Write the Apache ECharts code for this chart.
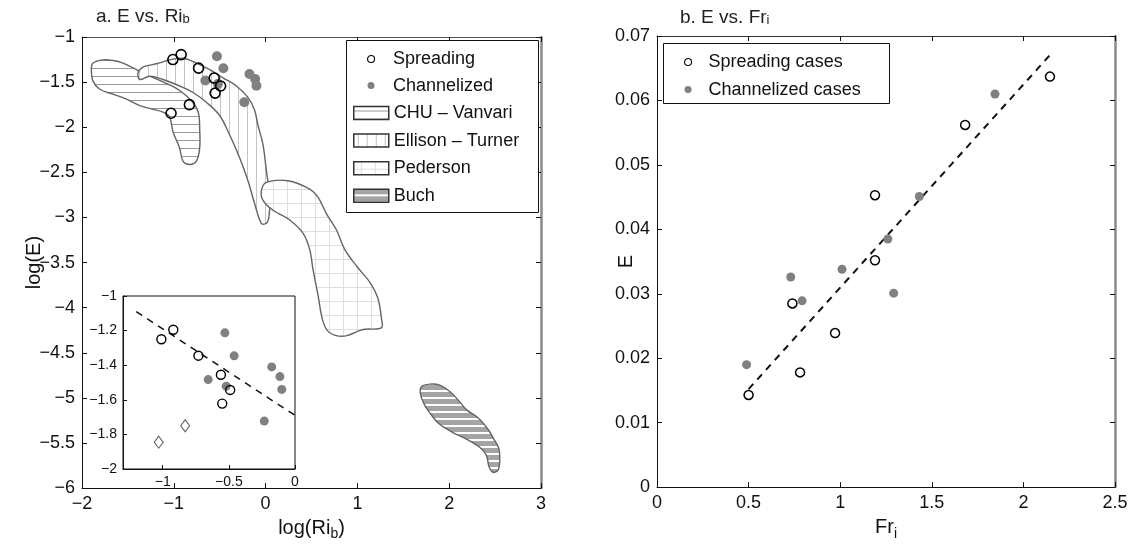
<!DOCTYPE html>
<html><head><meta charset="utf-8">
<script src="https://cdn.jsdelivr.net/npm/echarts@6/dist/echarts.min.js"></script>
<style>html,body{margin:0;padding:0;background:#fff}#c{width:1138px;height:546px}</style>
</head><body><div id="c"></div>
<script>
// ---------- Panel a: log(E) vs log(Ri_b) ----------
const spreadRi   = [-1.01, -0.92, -0.73, -0.56, -0.49, -0.55];
const spreadLogE = [-1.25, -1.195, -1.345, -1.455, -1.543, -1.622];
const otherRi    = [-1.03, -0.83];
const otherLogE  = [-1.845, -1.75];
const chanRi     = [-0.53, -0.46, -0.656, -0.52, -0.176, -0.114, -0.10, -0.232];
const chanLogE   = [-1.213, -1.346, -1.483, -1.521, -1.41, -1.466, -1.54, -1.723];
const insetFitRi   = [-1.2, 0];
const insetFitLogE = [-1.09, -1.69];

// region outlines [log(Ri_b), log(E)]
const chuOutline = [[-1.88,-1.289],[-1.771,-1.253],[-1.662,-1.261],[-1.553,-1.289],[-1.444,-1.343],[-1.317,-1.405],[-1.154,-1.482],[-0.99,-1.558],[-0.87,-1.645],[-0.772,-1.753],[-0.729,-1.851],[-0.718,-2.014],[-0.718,-2.232],[-0.754,-2.376],[-0.827,-2.413],[-0.9,-2.376],[-0.936,-2.232],[-1.009,-2.05],[-1.045,-1.887],[-1.118,-1.833],[-1.244,-1.797],[-1.371,-1.761],[-1.516,-1.688],[-1.662,-1.634],[-1.807,-1.579],[-1.88,-1.489],[-1.898,-1.362]];
const ellisonOutline = [[-1.39,-1.398],[-1.336,-1.333],[-1.19,-1.297],[-1.045,-1.253],[-0.9,-1.235],[-0.754,-1.289],[-0.609,-1.362],[-0.464,-1.452],[-0.318,-1.543],[-0.192,-1.67],[-0.119,-1.815],[-0.083,-1.978],[-0.028,-2.196],[0.009,-2.485],[0.045,-2.775],[0.037,-2.992],[0.009,-3.065],[-0.046,-3.065],[-0.119,-2.848],[-0.192,-2.593],[-0.282,-2.34],[-0.391,-2.087],[-0.5,-1.87],[-0.645,-1.724],[-0.791,-1.615],[-0.936,-1.543],[-1.118,-1.471],[-1.263,-1.435],[-1.371,-1.471]];
const pedersonOutline = [[-0.046,-2.702],[0.009,-2.612],[0.244,-2.593],[0.48,-2.685],[0.571,-2.775],[0.662,-2.957],[0.771,-3.137],[0.862,-3.354],[0.989,-3.536],[1.134,-3.717],[1.224,-3.898],[1.261,-4.115],[1.261,-4.224],[1.061,-4.242],[0.862,-4.315],[0.698,-4.278],[0.625,-4.152],[0.571,-3.862],[0.516,-3.572],[0.48,-3.354],[0.407,-3.174],[0.263,-3.028],[0.081,-2.92],[-0.028,-2.811]];
const buchOutline = [[1.697,-4.876],[1.788,-4.848],[1.897,-4.859],[2.006,-4.93],[2.096,-5.022],[2.187,-5.13],[2.314,-5.221],[2.423,-5.348],[2.496,-5.474],[2.542,-5.565],[2.55,-5.71],[2.532,-5.8],[2.477,-5.826],[2.434,-5.764],[2.405,-5.637],[2.332,-5.547],[2.187,-5.457],[2.041,-5.384],[1.897,-5.293],[1.788,-5.166],[1.722,-5.058],[1.686,-4.949]];

const axisAX = [-2, 3, 1];
const axisAY = [-6, -1, 0.5];
const insetX = [-1.3, 0];
const insetXTicks = [-1, -0.5, 0];
const insetY = [-2, -1, 0.2];

// ---------- Panel b: E vs Fr_i ----------
const spreadFr = [2.145, 1.682, 1.19, 1.19, 0.739, 0.972, 0.781, 0.5];
const spreadE  = [0.0637, 0.0562, 0.0453, 0.0352, 0.0285, 0.0239, 0.0178, 0.0143];
const chanFr   = [1.845, 1.432, 1.26, 1.01, 0.73, 1.292, 0.792, 0.489];
const chanE    = [0.061, 0.0451, 0.0385, 0.0338, 0.0326, 0.0301, 0.0289, 0.019];
const fitFr    = [0.5, 2.15];
const fitE     = [0.0152, 0.0672];
const axisBX = [0, 2.5, 0.5];
const axisBY = [0, 0.07, 0.01];

// ---------- helpers ----------
const zip = (a, b) => a.map((v, i) => [v, b[i]]);
const fmt = v => String(parseFloat(Number(v).toFixed(4))).replace('-', '\u2212');
function pattern(w, h, draw) {
  const c = document.createElement('canvas'); c.width = w; c.height = h;
  const ctx = c.getContext('2d'); draw(ctx, w, h);
  return { image: c, repeat: 'repeat' };
}
const patH = pattern(8, 8, (g) => { g.fillStyle = '#fff'; g.fillRect(0,0,8,8); g.fillStyle = '#9a9a9a'; g.fillRect(0, 4, 8, 1); });
const patV = pattern(9, 9, (g) => { g.fillStyle = '#fff'; g.fillRect(0,0,9,9); g.fillStyle = '#c4c4c4'; g.fillRect(4, 0, 1, 9); });
const patG = pattern(14, 14, (g) => { g.fillStyle = '#fff'; g.fillRect(0,0,14,14); g.fillStyle = '#dedede'; g.fillRect(7, 0, 1, 14); g.fillRect(0, 7, 14, 1); });
const patB = pattern(7, 7, (g) => { g.fillStyle = '#fff'; g.fillRect(0,0,7,7); g.fillStyle = '#a4a4a4'; g.fillRect(0, 0, 7, 5); });

function regionSeries(name, outline, fill, z) {
  return {
    type: 'custom', name, xAxisIndex: 0, yAxisIndex: 0, z,
    data: outline, encode: { x: 0, y: 1 },
    renderItem(params, api) {
      if (params.dataIndex !== 0) return null;
      const pts = outline.map(p => api.coord(p));
      return { type: 'polygon', shape: { points: pts, smooth: 0.35 },
        style: { fill, stroke: '#6a625d', lineWidth: 1.4 } };
    }
  };
}

const FONT = 'Liberation Sans';
const tickFont = { fontFamily: FONT, fontSize: 18, color: '#111' };
function boxAxis(opts, labelled) {
  return Object.assign({
    type: 'value', splitLine: { show: false },
    axisLine: { show: true, onZero: false, lineStyle: { color: '#111', width: 1 } },
    axisTick: { show: true, inside: true, length: 5, lineStyle: { color: '#111' } },
    axisLabel: labelled ? Object.assign({ formatter: fmt, margin: 7 }, tickFont) : { show: false }
  }, opts);
}
const titleRich = {
  t: { fontFamily: FONT, fontSize: 19, fontWeight: 'normal', color: '#222' },
  s: { fontFamily: FONT, fontSize: 13, fontWeight: 'normal', color: '#222', padding: [6, 0, 0, 0] }
};

const chart = echarts.init(document.getElementById('c'), null, { renderer: 'canvas' });
chart.setOption({
  animation: false,
  backgroundColor: '#fff',
  title: [
    { text: '{t|a. E vs. Ri}{s|b}', left: 91, top: 2, textStyle: { fontWeight: 'normal', rich: titleRich } },
    { text: '{t|b. E vs. Fr}{s|i}', left: 675, top: 3, textStyle: { fontWeight: 'normal', rich: titleRich } }
  ],
  grid: [
    { left: 82, top: 37, width: 459, height: 459 },
    { left: 123, top: 296, width: 172, height: 173, show: true, backgroundColor: '#fff', borderColor: '#111', borderWidth: 1, z: 3 },
    { left: 657, top: 36, width: 458, height: 460 }
  ],
  xAxis: [
    boxAxis({ gridIndex: 0, position: 'bottom', min: axisAX[0], max: axisAX[1], interval: axisAX[2],
      name: '{a|log(Ri}{s|b}{a|)}', nameLocation: 'middle', nameGap: 18,
      nameTextStyle: { rich: { a: { fontFamily: FONT, fontSize: 20, color: '#111' }, s: { fontFamily: FONT, fontSize: 14, color: '#111', padding: [12, 0, 0, 0] } } } }, true),
    boxAxis({ gridIndex: 0, position: 'top', min: axisAX[0], max: axisAX[1], interval: axisAX[2],
      axisLine: { show: true, onZero: false, lineStyle: { color: '#555' } } }, false),
    boxAxis({ gridIndex: 1, position: 'bottom', min: insetX[0], max: insetX[1], z: 4,
      axisTick: { show: true, inside: true, length: 4, customValues: insetXTicks, lineStyle: { color: '#111' } },
      axisLabel: { formatter: fmt, margin: 6, customValues: insetXTicks, fontFamily: FONT, fontSize: 14, color: '#111' } }, true),
    boxAxis({ gridIndex: 2, position: 'bottom', min: axisBX[0], max: axisBX[1], interval: axisBX[2],
      name: '{a|Fr}{s|i}', nameLocation: 'middle', nameGap: 18,
      nameTextStyle: { rich: { a: { fontFamily: FONT, fontSize: 20, color: '#111' }, s: { fontFamily: FONT, fontSize: 14, color: '#111', padding: [14, 0, 0, 0] } } } }, true),
    boxAxis({ gridIndex: 2, position: 'top', min: axisBX[0], max: axisBX[1], interval: axisBX[2],
      axisLine: { show: true, onZero: false, lineStyle: { color: '#333' } } }, false)
  ],
  yAxis: [
    boxAxis({ gridIndex: 0, position: 'left', min: axisAY[0], max: axisAY[1], interval: axisAY[2],
      name: 'log(E)', nameLocation: 'middle', nameGap: 38, nameRotate: 90, nameMoveOverlap: false,
      nameTextStyle: { fontFamily: FONT, fontSize: 20, color: '#111' } }, true),
    boxAxis({ gridIndex: 0, position: 'right', min: axisAY[0], max: axisAY[1], interval: axisAY[2],
      axisLine: { show: true, onZero: false, lineStyle: { color: '#8a8a8a', width: 2.5 } } }, false),
    boxAxis({ gridIndex: 1, position: 'left', min: insetY[0], max: insetY[1], interval: insetY[2], z: 4,
      axisTick: { show: true, inside: true, length: 4, lineStyle: { color: '#111' } },
      axisLabel: { formatter: fmt, margin: 6, fontFamily: FONT, fontSize: 14, color: '#111' } }, true),
    boxAxis({ gridIndex: 2, position: 'left', min: axisBY[0], max: axisBY[1], interval: axisBY[2],
      name: 'E', nameLocation: 'middle', nameGap: 21, nameRotate: 90, nameMoveOverlap: false,
      nameTextStyle: { fontFamily: FONT, fontSize: 20, color: '#111' } }, true),
    boxAxis({ gridIndex: 2, position: 'right', min: axisBY[0], max: axisBY[1], interval: axisBY[2],
      axisLine: { show: true, onZero: false, lineStyle: { color: '#8a8a8a', width: 2.5 } } }, false)
  ],
  graphic: [
    { type: 'rect', z: 3, shape: { x: 346.5, y: 40.5, width: 192, height: 172 }, style: { fill: '#fff', stroke: '#111', lineWidth: 1 } },
    { type: 'rect', z: 3, shape: { x: 663.5, y: 43.5, width: 226, height: 60 }, style: { fill: '#fff', stroke: '#111', lineWidth: 1 } }
  ],
  legend: [
    { orient: 'vertical', left: 367, top: 50, itemWidth: 34, itemHeight: 7, itemGap: 8.6, padding: 0, z: 5,
      textStyle: { fontFamily: FONT, fontSize: 18, color: '#111', lineHeight: 14 },
      data: [ { name: 'Spreading', icon: 'circle', itemStyle: { borderWidth: 1.1 } },
              { name: 'Channelized', icon: 'circle' } ] },
    { orient: 'vertical', left: 353, top: 104, itemWidth: 35, itemHeight: 13, itemGap: 9.6, padding: 0, z: 5,
      textStyle: { fontFamily: FONT, fontSize: 18, color: '#111', lineHeight: 14 },
      data: [
        { name: 'CHU \u2013 Vanvari', icon: 'rect', itemStyle: { color: patH, borderColor: '#333', borderWidth: 1.5 } },
        { name: 'Ellison \u2013 Turner', icon: 'rect', itemStyle: { color: patV, borderColor: '#333', borderWidth: 1.5 } },
        { name: 'Pederson', icon: 'rect', itemStyle: { color: patG, borderColor: '#333', borderWidth: 1.5 } },
        { name: 'Buch', icon: 'rect', itemStyle: { color: patB, borderColor: '#333', borderWidth: 1.5 } } ] },
    { orient: 'vertical', left: 684, top: 53, itemWidth: 31, itemHeight: 7, itemGap: 9.6, padding: 0, z: 5,
      textStyle: { fontFamily: FONT, fontSize: 18, color: '#111', lineHeight: 14 },
      data: [ { name: 'Spreading cases', icon: 'circle', itemStyle: { borderWidth: 1.1 } },
              { name: 'Channelized cases', icon: 'circle' } ] }
  ],
  series: [
    regionSeries('CHU \u2013 Vanvari', chuOutline, patH, 1),
    regionSeries('Ellison \u2013 Turner', ellisonOutline, patV, 1),
    regionSeries('Pederson', pedersonOutline, patG, 1),
    regionSeries('Buch', buchOutline, patB, 1),
    { type: 'scatter', name: 'Channelized', xAxisIndex: 0, yAxisIndex: 0, z: 3,
      data: zip(chanRi, chanLogE), symbolSize: 10, itemStyle: { color: '#808080', opacity: 1 } },
    { type: 'scatter', name: 'Spreading', xAxisIndex: 0, yAxisIndex: 0, z: 4,
      data: zip(spreadRi.concat(otherRi), spreadLogE.concat(otherLogE)), symbolSize: 10,
      itemStyle: { color: 'rgba(255,255,255,0)', borderColor: '#000', borderWidth: 1.6, opacity: 1 } },
    // inset
    { type: 'line', name: 'inset fit', xAxisIndex: 2, yAxisIndex: 2, z: 5, symbol: 'none',
      data: zip(insetFitRi, insetFitLogE), lineStyle: { color: '#111', width: 1.5, type: [7, 6] } },
    { type: 'scatter', name: 'inset chan', xAxisIndex: 2, yAxisIndex: 2, z: 5,
      data: zip(chanRi, chanLogE), symbolSize: 9, itemStyle: { color: '#808080', opacity: 1 } },
    { type: 'scatter', name: 'inset spread', xAxisIndex: 2, yAxisIndex: 2, z: 6,
      data: zip(spreadRi, spreadLogE), symbolSize: 9,
      itemStyle: { color: 'rgba(255,255,255,0)', borderColor: '#000', borderWidth: 1.4, opacity: 1 } },
    { type: 'scatter', name: 'inset other', xAxisIndex: 2, yAxisIndex: 2, z: 6, symbol: 'diamond',
      data: zip(otherRi, otherLogE), symbolSize: [9, 12],
      itemStyle: { color: 'rgba(255,255,255,0)', borderColor: '#666', borderWidth: 1.1, opacity: 1 } },
    // panel b
    { type: 'line', name: 'fit', xAxisIndex: 3, yAxisIndex: 3, z: 3, symbol: 'none',
      data: zip(fitFr, fitE), lineStyle: { color: '#111', width: 2, type: [7, 6] } },
    { type: 'scatter', name: 'Channelized cases', xAxisIndex: 3, yAxisIndex: 3, z: 4,
      data: zip(chanFr, chanE), symbolSize: 9, itemStyle: { color: '#808080', opacity: 1 } },
    { type: 'scatter', name: 'Spreading cases', xAxisIndex: 3, yAxisIndex: 3, z: 5,
      data: zip(spreadFr, spreadE), symbolSize: 9,
      itemStyle: { color: 'rgba(255,255,255,0)', borderColor: '#000', borderWidth: 1.5, opacity: 1 } }
  ]
});
</script>
</body></html>
